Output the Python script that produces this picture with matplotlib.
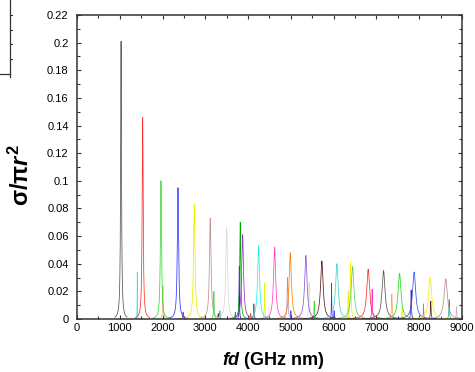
import numpy as np
import matplotlib.pyplot as plt
from matplotlib.ticker import MultipleLocator

# ========================
# Configuración general
# ========================

plt.rcParams["font.family"] = ["Liberation Sans", "DejaVu Sans"]
plt.rcParams["mathtext.fontset"] = "custom"
plt.rcParams["mathtext.rm"] = "Liberation Sans:bold"
plt.rcParams["mathtext.bf"] = "Liberation Sans:bold"
plt.rcParams["mathtext.it"] = "Liberation Sans:bold:italic"

# ========================
# Datos
# ========================

# Resonancias principales: centro (GHz nm), altura (sigma/pi r^2), ancho, color
centros = [1030, 1535, 1963, 2360, 2741, 3115, 3497, 3816, 3871, 4245,
           4619, 4985, 5350, 5724, 6075, 6395, 6441, 6807, 7166, 7540,
           7881, 8255, 8621]
alturas = [0.201, 0.146, 0.100, 0.095, 0.083, 0.073, 0.066, 0.070, 0.061, 0.053,
           0.052, 0.048, 0.046, 0.042, 0.040, 0.041, 0.038, 0.036, 0.035, 0.033,
           0.034, 0.030, 0.029]
anchos = [12, 14, 16, 18, 20, 22, 24, 14, 26, 28,
          30, 32, 34, 36, 38, 12, 40, 40, 42, 42,
          44, 44, 46]
colores = ["#555555", "#ff3030", "#33dd33", "#3333ff", "#f0f000", "#bc8f8f",
           "#d8d8d8", "#00aa00", "#9932cc", "#22eeee", "#ff44cc", "#ff8000",
           "#8a5ad6", "#5a1e1e", "#40d8c8", "#f0f000", "#66cc66", "#ff3030",
           "#555555", "#22dd22", "#3355ee", "#f0f000", "#bc8f8f"]

# Resonancias secundarias (pequeñas)
centros_sec = [1409, 2009, 2480, 3200, 3300, 3340, 3700, 3793, 4060, 4135,
               4385, 4922, 5000, 5428, 5545, 5950, 6010, 6340, 6900, 7360,
               7600, 7811, 8100, 8270, 8700, 8872]
alturas_sec = [0.034, 0.024, 0.005, 0.020, 0.004, 0.006, 0.005, 0.038, 0.004, 0.011,
               0.026, 0.030, 0.006, 0.027, 0.013, 0.026, 0.006, 0.020, 0.0215, 0.018,
               0.008, 0.021, 0.011, 0.013, 0.014, 0.009]
anchos_sec = [3, 8, 8, 8, 6, 6, 5, 5, 6, 8,
              6, 12, 6, 12, 6, 5, 8, 8, 8, 10,
              8, 8, 6, 8, 8, 8]
colores_sec = ["#22eeee", "#ffa050", "#6a2cc0", "#33dd33", "#2f4f4f", "#20b2aa",
               "#00aa00", "#0000aa", "#ff3030", "#555555", "#f0f000", "#bc8f8f",
               "#3333ff", "#d8d8d8", "#33dd33", "#7a20d8", "#3333ff", "#f0f000",
               "#ff22dd", "#ffa050", "#f0f000", "#4b1a9a", "#ff44cc", "#5a1e1e",
               "#10a0a0", "#c8b0b0"]


def lorentziana(x, c, h, g):
    return h * g**2 / ((x - c)**2 + g**2)


def dibujar_picos(ax, cs, hs, gs, cols, lw):
    for c, h, g, col in zip(cs, hs, gs, cols):
        x = np.linspace(c - 12 * g, c + 12 * g, 801)
        ax.plot(x, lorentziana(x, c, h, g), color=col, lw=lw)


# ========================
# Gráfico
# ========================

fig = plt.figure(figsize=(4.75, 3.72), dpi=100)
ax = fig.add_axes([0.1621, 0.1425, 0.8105, 0.8172])

dibujar_picos(ax, centros_sec, alturas_sec, anchos_sec, colores_sec, 0.5)
dibujar_picos(ax, centros, alturas, anchos, colores, 0.55)

ax.set_xlim(0, 9000)
ax.set_ylim(0, 0.22)
ax.xaxis.set_major_locator(MultipleLocator(1000))
ax.xaxis.set_minor_locator(MultipleLocator(500))
ax.yaxis.set_minor_locator(MultipleLocator(0.01))
ax.set_yticks(np.arange(0, 0.2201, 0.02))
ax.set_yticklabels(["0", "0.02", "0.04", "0.06", "0.08", "0.1", "0.12",
                    "0.14", "0.16", "0.18", "0.2", "0.22"])
ax.tick_params(which="both", direction="in", top=True, right=True,
               labelsize=8, color="#333333")
ax.tick_params(which="major", length=3, width=0.8)
ax.tick_params(which="minor", length=2, width=0.8)
ax.tick_params(axis="y", pad=6)
ax.tick_params(axis="x", pad=3)
for s in ax.spines.values():
    s.set_linewidth(1.1)
    s.set_color("#333333")

fig.text(0.575, 0.032, r"$fd$ (GHz nm)", ha="center", va="center",
         fontsize=13, fontweight="bold")
fig.text(0.045, 0.53, r"$\mathbf{\sigma/\pi}r^{2}$", ha="center", va="center",
         rotation=90, fontsize=17)

# Fragmento de otra figura en la esquina superior izquierda
fig.add_artist(plt.Line2D([10 / 475, 10 / 475], [1, 1 - 77 / 372],
                          color="#333333", lw=0.9))
fig.add_artist(plt.Line2D([0, 10 / 475], [1 - 74 / 372, 1 - 74 / 372],
                          color="#333333", lw=0.9))
for yy in [15, 30, 44, 59]:
    fig.add_artist(plt.Line2D([10 / 475, 12 / 475], [1 - yy / 372, 1 - yy / 372],
                              color="#333333", lw=0.8))

fig.savefig("out.png", dpi=100)
